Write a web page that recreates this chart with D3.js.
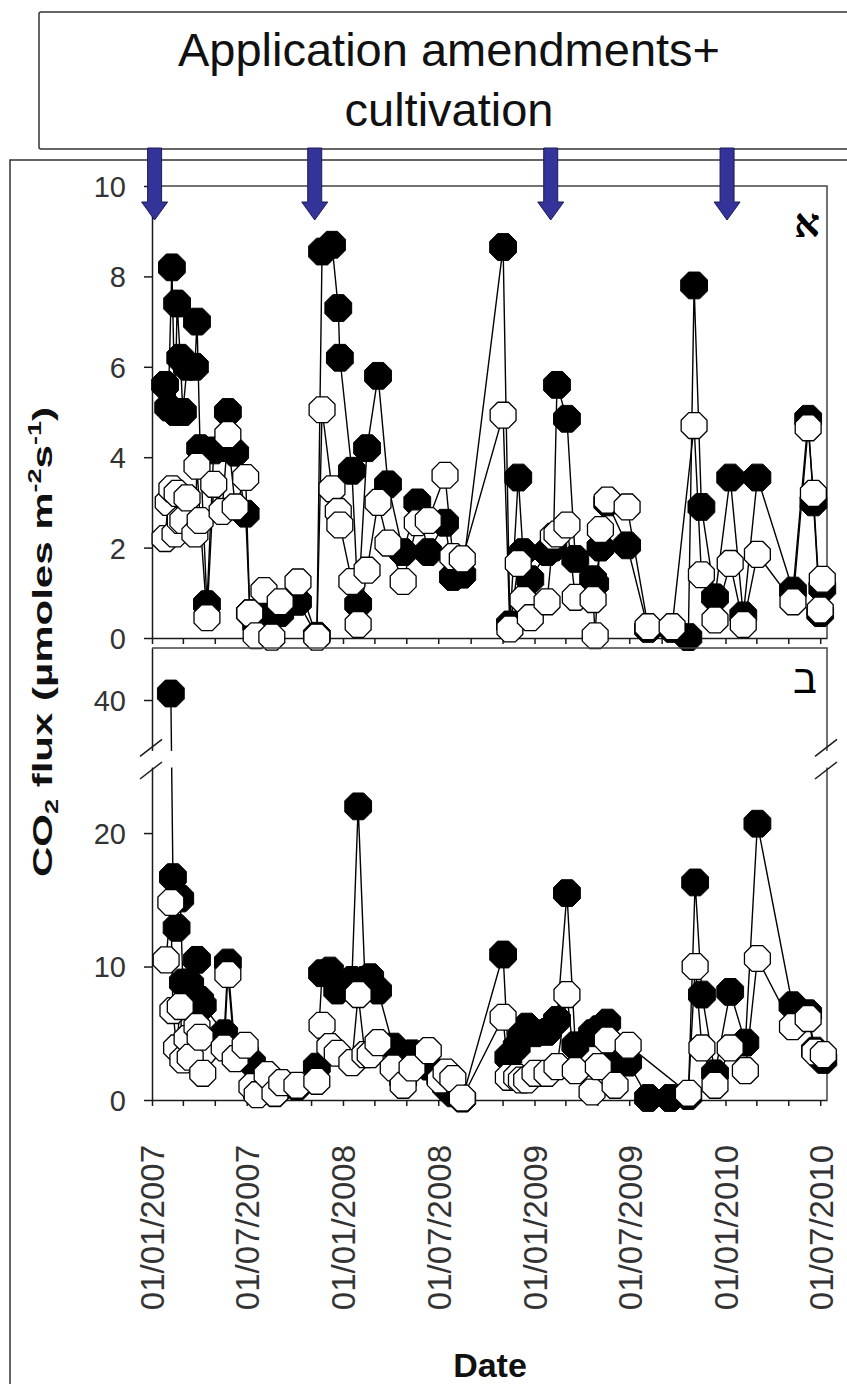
<!DOCTYPE html>
<html>
<head>
<meta charset="utf-8">
<script src="https://cdn.jsdelivr.net/npm/d3@7"></script>
<style>
  html, body { margin: 0; padding: 0; background: #fff; }
  svg { display: block; }
</style>
</head>
<body>
<svg id="chart" width="847" height="1384"></svg>
<script>
// Amendment application + cultivation events (blue arrows)
const applicationDates = ["2007-01-06", "2007-11-08", "2009-02-01", "2010-01-04"];

// Panel א : sampling dates, filled-marker series and open-marker series
const topDates = [
  "2007-01-26","2007-02-01","2007-02-08","2007-02-14","2007-02-18","2007-02-24","2007-03-01","2007-03-09",
  "2007-03-24","2007-03-28","2007-04-03","2007-04-16","2007-04-29","2007-05-15","2007-05-26","2007-06-09",
  "2007-06-29","2007-07-07","2007-07-19","2007-08-03","2007-08-18","2007-09-03","2007-10-07","2007-11-12",
  "2007-11-22","2007-12-11","2007-12-23","2007-12-26","2008-01-18","2008-01-30","2008-02-16","2008-03-08",
  "2008-03-27","2008-04-25","2008-05-22","2008-06-12","2008-07-14","2008-07-29","2008-08-16","2008-11-02",
  "2008-11-15","2008-12-01","2008-12-10","2008-12-24","2009-01-25","2009-02-06","2009-02-13","2009-03-04",
  "2009-03-20","2009-04-23","2009-04-27","2009-05-07","2009-05-20","2009-06-27","2009-08-06","2009-09-21",
  "2009-10-22","2009-11-02","2009-11-16","2009-12-12","2010-01-10","2010-02-04","2010-03-03","2010-05-10",
  "2010-06-08","2010-06-18","2010-07-01","2010-07-05"
];
const topFilled = [
  5.6, 5.1, 8.2, 5.0, 7.4, 6.2, 5.0, 6.0,
  6.0, 7.0, 4.2, 0.75, 4.15, 4.2, 5.0, 4.1,
  2.75, 0.55, 0.3, 0.55, 0.55, 0.55, 0.8, 0.05,
  8.55, 8.7, 7.3, 6.2, 3.7, 0.75, 4.2, 5.8,
  3.4, 1.9, 3.0, 1.9, 2.55, 1.35, 1.4, 8.65,
  0.3, 3.55, 1.9, 1.3, 1.9, 2.0, 5.6, 4.85,
  1.75, 1.3, 1.2, 2.0, 3.0, 2.05, 0.2, 0.2,
  0.02, 7.8, 2.9, 0.9, 3.55, 0.5, 3.55, 1.05,
  4.85, 3.0, 0.55, 1.1
];
const topOpen = [
  2.2, 3.0, 3.3, 2.3, 3.2, 2.6, 2.6, 3.1,
  2.3, 3.8, 2.6, 0.45, 3.4, 2.8, 4.5, 2.9,
  3.55, 0.55, 0.05, 1.05, 0.02, 0.8, 1.24, 0.02,
  5.05, 3.3, 2.8, 2.5, 1.25, 0.3, 1.5, 3.0,
  2.1, 1.25, 2.55, 2.6, 3.6, 1.8, 1.75, 4.93,
  0.2, 1.65, 0.85, 0.45, 0.8, 2.25, 2.3, 2.5,
  0.9, 0.85, 0.05, 2.4, 3.05, 2.9, 0.25, 0.25,
  null, 4.7, 1.4, 0.4, 1.65, 0.3, 1.85, 0.8,
  4.65, 3.2, 0.62, 1.3
];

// Panel ב : sampling dates, filled-marker series and open-marker series
const bottomDates = [
  "2007-01-28","2007-02-06","2007-02-10","2007-02-17","2007-02-24","2007-03-01","2007-03-09","2007-03-15",
  "2007-03-28","2007-04-03","2007-04-08","2007-05-19","2007-05-26","2007-06-09","2007-06-28","2007-07-11",
  "2007-07-21","2007-08-09","2007-08-24","2007-09-06","2007-10-05","2007-11-12","2007-11-22","2007-12-07",
  "2007-12-21","2008-01-18","2008-01-30","2008-02-12","2008-02-22","2008-03-08","2008-04-06","2008-04-25",
  "2008-05-12","2008-06-12","2008-07-05","2008-07-16","2008-07-29","2008-08-16","2008-11-02","2008-11-12",
  "2008-11-28","2008-12-07","2008-12-17","2009-01-02","2009-01-25","2009-02-13","2009-03-04","2009-03-20",
  "2009-04-21","2009-05-03","2009-05-20","2009-06-04","2009-06-29","2009-08-06","2009-09-17","2009-10-22",
  "2009-11-04","2009-11-17","2009-12-12","2010-01-10","2010-02-08","2010-03-03","2010-05-09","2010-06-08",
  "2010-06-21","2010-07-07"
];
const bottomFilled = [
  null, 40.5, 16.7, 12.9, 15.1, 8.8, 8.8, 8.7,
  10.5, 7.5, 7.1, 5.0, 10.3, 3.5, 3.5, 2.8,
  0.5, 1.5, 0.5, 1.2, 1.0, 2.5, 9.5, 9.7,
  8.2, 9.0, 22.0, 9.0, 9.2, 8.2, 4.0, 1.5,
  3.5, 2.5, 1.6, 1.0, 0.5, 0.1, 10.9, 3.2,
  4.0, 5.0, 5.5, 5.0, 5.1, 6.0, 15.5, 4.1,
  5.0, 5.3, 5.8, 3.0, 2.8, 0.15, 0.15, 0.3,
  16.3, 7.9, 2.0, 8.1, 4.3, 20.7, 7.1, 6.5,
  3.7, 3.0
];
const bottomOpen = [
  10.5, 14.8, 6.7, 3.9, 7.0, 3.0, 4.6, 3.2,
  5.5, 4.7, 2.0, 3.9, 9.4, 3.1, 4.1, 1.0,
  0.4, 1.9, 0.5, 1.3, 1.1, 1.4, 5.6, 4.0,
  3.5, 2.8, 7.9, 3.4, 3.4, 4.3, 2.4, 1.1,
  2.4, 3.7, 1.5, 2.1, 1.6, 0.15, 6.2, 1.7,
  1.7, 1.5, 1.5, 2.0, 2.0, 2.5, 7.9, 2.2,
  0.6, 2.5, 4.5, 1.1, 4.1, null, null, 0.5,
  10.0, 3.9, 1.1, 3.9, 2.2, 10.6, 5.5, 6.1,
  3.6, 3.4
];

const topTicks = [0, 2, 4, 6, 8, 10];
const bottomTicks = [0, 10, 20, 40];
const titleLines = ["Application amendments+", "cultivation"];
const panelLabels = ["א", "ב"];

const FONT = "'Liberation Sans', Arial, 'DejaVu Sans', sans-serif";
const svg = d3.select("#chart");
const parse = d3.utcParse("%Y-%m-%d");
const fmt = d3.utcFormat("%d/%m/%Y");

// Shared time axis
const x = d3.scaleUtc()
  .domain([parse("2007-01-01"), parse("2010-07-14")])
  .range([152, 827]);

const yTop = d3.scaleLinear().domain([0, 10]).range([638, 186]);
// Broken axis: 0–24.8 lower segment, 36.2–44 upper segment
const breakLow = 24.8, breakHigh = 36.2;
const yBot = d3.scaleLinear()
  .domain([0, breakLow, breakHigh, 44])
  .range([1100, 769, 749.4, 648]);

// Octagonal marker
const octagon = {
  draw(ctx, size) {
    const r = Math.sqrt(size / (2 * Math.SQRT2));
    for (let i = 0; i < 8; i++) {
      const a = Math.PI / 8 + i * Math.PI / 4;
      const px = r * Math.cos(a), py = r * Math.sin(a);
      if (i) ctx.lineTo(px, py); else ctx.moveTo(px, py);
    }
    ctx.closePath();
  }
};
const sizeFor = r => 2 * Math.SQRT2 * r * r;

// Outer frame and title box
svg.append("rect").attr("x", 10).attr("y", 160).attr("width", 900).attr("height", 1300)
  .attr("fill", "none").attr("stroke", "#333").attr("stroke-width", 1.5);
svg.append("rect").attr("x", 39).attr("y", 12).attr("width", 900).attr("height", 137).attr("rx", 2)
  .attr("fill", "#fff").attr("stroke", "#333").attr("stroke-width", 1.5);
svg.append("text").attr("font-family", FONT).attr("font-size", 47).attr("fill", "#111")
  .attr("text-anchor", "middle")
  .selectAll("tspan").data(titleLines).join("tspan")
  .attr("x", 449).attr("y", (d, i) => 66 + i * 60).text(d => d);

function styleAxis(g, fontSize) {
  g.attr("font-family", FONT).attr("font-size", fontSize);
  g.select(".domain").attr("stroke", "#1a1a1a").attr("stroke-width", 1.5);
  g.selectAll(".tick line").attr("stroke", "#1a1a1a").attr("stroke-width", 1.5);
  g.selectAll(".tick text").attr("fill", "#333");
}

function drawSeries(g, dates, values, y, filled) {
  const pts = dates.map((d, i) => ({ date: parse(d), v: values[i] })).filter(p => p.v != null);
  g.append("path").datum(pts)
    .attr("d", d3.line().x(p => x(p.date)).y(p => y(p.v)))
    .attr("fill", "none").attr("stroke", "#000").attr("stroke-width", 1.4);
  g.append("g").selectAll("path").data(pts).join("path")
    .attr("transform", p => `translate(${x(p.date)},${y(p.v)})`)
    .attr("d", d3.symbol().type(octagon).size(sizeFor(filled ? 14.5 : 14)))
    .attr("fill", filled ? "#000" : "#fff")
    .attr("stroke", "#000").attr("stroke-width", filled ? 1 : 1.3);
}

// ---------- Panel א ----------
const topPanel = svg.append("g");
topPanel.append("path")
  .attr("d", `M${x.range()[0]},${yTop(10)}H${x.range()[1]}V${yTop(0)}`)
  .attr("fill", "none").attr("stroke", "#444").attr("stroke-width", 1.5);
const topX = topPanel.append("g").attr("transform", `translate(0,${yTop(0)})`)
  .call(d3.axisBottom(x).ticks(d3.utcMonth.every(2)).tickFormat("").tickSize(6).tickSizeOuter(0));
styleAxis(topX, 29);
const topY = topPanel.append("g").attr("transform", `translate(${x.range()[0]},0)`)
  .call(d3.axisLeft(yTop).tickValues(topTicks).tickSize(8).tickPadding(18).tickSizeOuter(0));
styleAxis(topY, 29);
topY.selectAll(".tick text").attr("dy", "0.36em");
drawSeries(topPanel, topDates, topFilled, yTop, true);
drawSeries(topPanel, topDates, topOpen, yTop, false);
topPanel.append("text").attr("x", 807).attr("y", 237).attr("text-anchor", "middle")
  .attr("font-family", "'Liberation Serif', 'DejaVu Serif', 'DejaVu Sans', serif")
  .attr("font-weight", "bold").attr("font-size", 40).attr("fill", "#000").text(panelLabels[0]);

// ---------- Panel ב ----------
const botPanel = svg.append("g");
botPanel.append("path")
  .attr("d", `M${x.range()[0]},${yBot(44)}H${x.range()[1]}V${yBot(0)}`)
  .attr("fill", "none").attr("stroke", "#444").attr("stroke-width", 1.5);
const botX = botPanel.append("g").attr("transform", `translate(0,${yBot(0)})`)
  .call(d3.axisBottom(x).ticks(d3.utcMonth.every(2))
    .tickFormat(d => d.getUTCMonth() % 6 === 0 ? fmt(d) : "")
    .tickSize(6).tickSizeOuter(0));
styleAxis(botX, 33);
botX.selectAll(".tick text")
  .attr("transform", "rotate(-90)").attr("text-anchor", "end")
  .attr("x", -45).attr("y", 0).attr("dy", "0.36em");
const botY = botPanel.append("g").attr("transform", `translate(${x.range()[0]},0)`)
  .call(d3.axisLeft(yBot).tickValues(bottomTicks).tickSize(8).tickPadding(18).tickSizeOuter(0));
styleAxis(botY, 29);
botY.selectAll(".tick text").attr("dy", "0.36em");
drawSeries(botPanel, bottomDates, bottomFilled, yBot, true);
drawSeries(botPanel, bottomDates, bottomOpen, yBot, false);

// Axis break: blank band and slash marks on both vertical edges
const bandTop = yBot(breakHigh) + 1.5, bandBottom = yBot(breakLow) - 1.5;
botPanel.append("rect").attr("x", 145).attr("y", bandTop).attr("width", 688).attr("height", bandBottom - bandTop)
  .attr("fill", "#fff");
const slashY = [yBot(breakHigh) - 2, yBot(breakLow) + 1];
[x.range()[0], x.range()[1]].forEach(ax => {
  slashY.forEach(yc => {
    botPanel.append("line").attr("x1", ax - 12).attr("y1", yc + 9).attr("x2", ax + 10).attr("y2", yc - 8)
      .attr("stroke", "#1a1a1a").attr("stroke-width", 1.5);
  });
});
botPanel.append("text").attr("x", 805).attr("y", 693).attr("text-anchor", "middle")
  .attr("font-family", "'Liberation Sans', 'DejaVu Sans', sans-serif")
  .attr("font-size", 40).attr("fill", "#000").text(panelLabels[1]);

// Axis titles
const yTitle = svg.append("text")
  .attr("transform", "translate(52,642) rotate(-90) scale(1.5,1)")
  .attr("text-anchor", "middle").attr("font-family", FONT).attr("font-weight", "bold")
  .attr("font-size", 28).attr("fill", "#111");
yTitle.append("tspan").text("CO");
yTitle.append("tspan").attr("font-size", 18).attr("dy", 6).text("2");
yTitle.append("tspan").attr("dy", -6).text(" flux (µmoles m");
yTitle.append("tspan").attr("font-size", 18).attr("dy", -11).text("-2");
yTitle.append("tspan").attr("dy", 11).text("s");
yTitle.append("tspan").attr("font-size", 18).attr("dy", -11).text("-1");
yTitle.append("tspan").attr("dy", 11).text(")");

svg.append("text").attr("x", 490).attr("y", 1377).attr("text-anchor", "middle")
  .attr("font-family", FONT).attr("font-weight", "bold").attr("font-size", 34).attr("fill", "#111")
  .text("Date");

// Application arrows
const arrow = d3.line()([[-7, 0], [7, 0], [7, 54], [13, 54], [0, 72], [-13, 54], [-7, 54]]) + "Z";
svg.append("g").selectAll("path").data(applicationDates).join("path")
  .attr("transform", d => `translate(${x(parse(d))},148)`)
  .attr("d", arrow)
  .attr("fill", "#333399").attr("stroke", "#1c1c55").attr("stroke-width", 1);
</script>
</body>
</html>
